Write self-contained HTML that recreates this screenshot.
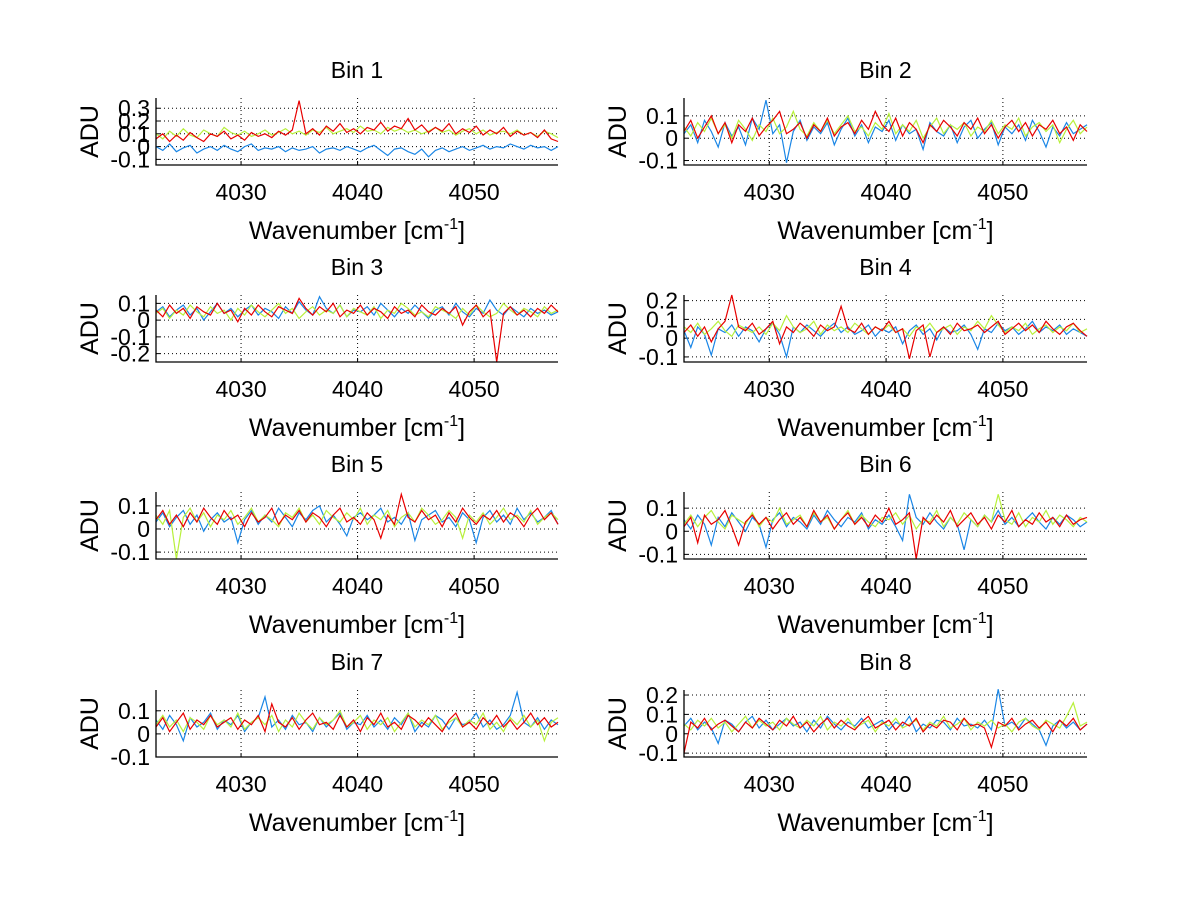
<!DOCTYPE html>
<html><head><meta charset="utf-8"><style>
body{margin:0;background:#fff;}
svg{display:block;font-family:"Liberation Sans",sans-serif;}
</style></head><body>
<svg id="fig" width="1200" height="901" viewBox="0 0 1200 901" xmlns="http://www.w3.org/2000/svg">
<rect width="1200" height="901" fill="#fff"/>
</svg>
<script>
// values in hundredths of ADU
const xMin = 4022.7, xMax = 4057.2;
const xTicks = [4030, 4040, 4050];
const binTitles = ["Bin 1","Bin 2","Bin 3","Bin 4","Bin 5","Bin 6","Bin 7","Bin 8"];
const yRanges = [[-0.144,0.38],[-0.12,0.18],[-0.25,0.15],[-0.127,0.23],[-0.13,0.16],[-0.12,0.17],[-0.1,0.19],[-0.12,0.226]];
const yTicks = [[-0.1,0,0.1,0.2,0.3],[-0.1,0,0.1],[-0.2,-0.1,0,0.1],[-0.1,0,0.1,0.2],[-0.1,0,0.1],[-0.1,0,0.1],[-0.1,0,0.1],[-0.1,0,0.1,0.2]];
const blueSeries = [
[0,-3,2,-4,-1,1,-5,-2,0,-3,1,-2,-4,0,2,-3,-1,-2,0,-4,-1,-3,-2,0,-5,-2,-1,-3,0,-2,-4,-1,1,-3,-7,-2,-1,-4,-6,-2,-8,-3,-1,-4,-2,0,-3,-1,1,-2,0,-1,2,0,-2,1,-1,0,-3,0],
[2,6,-2,8,3,-4,7,1,5,-3,9,4,17,2,6,-11,3,8,-1,5,2,7,-3,4,9,1,6,-2,5,3,8,-1,6,2,4,-5,7,3,1,6,-2,5,8,0,4,7,-3,5,2,6,-1,8,3,-4,5,1,7,2,4,6],
[5,8,2,6,9,3,7,0,5,10,4,7,2,6,9,3,7,5,1,8,4,11,6,3,14,7,4,9,2,6,5,8,3,10,6,2,7,4,9,5,1,6,8,3,10,5,2,7,4,12,6,3,8,5,2,7,4,6,3,5],
[4,-5,6,2,-9,5,3,7,1,6,4,-2,5,8,2,-10,6,3,7,4,1,5,8,3,6,2,4,7,1,5,3,6,-3,4,7,2,5,-1,6,3,4,7,2,-6,5,3,8,4,6,2,5,9,3,6,4,7,2,5,3,1],
[3,7,1,5,8,2,6,-1,4,7,3,5,-6,4,8,2,6,3,9,5,1,7,4,8,10,3,6,2,-3,5,7,4,6,9,3,5,2,7,-5,4,6,8,3,5,1,7,4,-6,5,8,3,6,2,9,4,7,3,5,8,2],
[5,1,7,3,-6,6,2,8,4,0,6,3,-7,5,8,2,6,4,1,7,3,9,5,2,6,4,8,1,5,3,7,2,-4,16,6,3,8,4,1,6,3,-8,5,2,7,4,9,3,6,2,5,8,4,1,6,3,7,5,2,4],
[6,2,8,4,-3,7,3,5,9,2,6,4,8,1,5,7,16,3,6,2,8,4,5,1,7,3,6,9,2,5,4,8,3,6,2,7,4,9,1,5,3,8,6,2,7,4,5,9,3,6,2,4,8,18,5,3,7,2,6,4],
[4,8,2,6,3,-5,7,5,1,6,9,3,7,2,5,8,4,6,1,7,3,9,5,2,6,4,8,3,5,7,2,6,4,9,1,5,3,7,6,2,8,4,5,3,7,2,23,4,6,3,8,5,2,-6,4,7,3,6,2,5]];
const greenSeries = [
[10,6,12,8,14,9,7,13,10,8,15,11,9,12,8,10,13,9,11,14,10,12,9,13,11,15,10,12,14,11,16,12,13,10,15,12,14,11,13,10,12,15,11,13,9,12,14,10,13,9,11,12,10,13,9,11,8,12,10,7],
[5,1,7,3,9,2,6,0,8,4,-1,6,3,9,2,5,12,4,1,7,3,8,2,6,10,3,5,1,7,4,11,2,6,3,8,0,5,9,2,6,4,7,1,5,3,8,2,6,4,9,1,5,7,3,6,-2,4,8,2,5],
[4,7,1,6,3,9,5,2,8,4,6,0,7,3,9,5,2,6,10,4,7,1,5,8,3,6,4,9,2,7,5,3,8,1,6,4,10,7,3,5,2,8,6,4,1,7,3,9,5,2,4,10,6,3,7,5,2,8,4,6],
[6,3,8,2,5,9,4,1,7,5,3,6,2,8,4,12,6,3,5,9,2,7,4,6,3,8,5,2,6,4,7,3,5,1,6,4,8,3,5,7,2,6,4,9,5,12,7,3,6,4,8,2,5,7,3,6,4,8,3,5],
[6,2,8,-13,5,9,3,7,1,6,4,8,2,5,9,3,6,4,1,7,5,9,3,6,2,8,5,3,7,4,9,2,6,4,8,1,5,7,3,9,6,2,4,8,5,-4,6,3,7,2,5,9,4,6,3,8,2,5,7,4],
[3,7,2,6,9,4,1,7,5,3,8,2,6,4,10,3,5,7,2,8,4,6,1,5,9,3,7,4,2,6,5,8,3,7,1,5,4,9,2,6,3,8,5,2,7,4,16,5,3,8,2,6,4,9,3,7,5,2,6,4],
[4,8,3,6,1,7,5,2,8,4,6,3,9,2,5,7,4,8,1,6,3,9,5,2,7,4,6,10,3,5,8,2,6,4,7,1,5,9,3,6,4,8,2,5,7,3,6,4,9,2,5,1,7,4,8,3,6,-3,5,7],
[5,2,7,4,8,3,6,1,5,9,3,7,4,6,2,8,5,3,7,4,9,2,6,4,8,3,5,7,1,6,4,8,3,5,7,2,6,4,9,3,5,8,2,6,4,7,3,5,1,6,8,4,2,7,5,3,9,16,4,6]];
const redSeries = [
[6,10,4,9,5,11,7,4,10,8,12,6,9,5,11,8,10,7,12,9,13,36,10,14,9,16,12,18,11,14,10,15,13,19,12,16,14,22,13,17,11,15,12,18,10,14,11,16,9,13,10,15,8,12,9,11,7,13,6,4],
[3,8,0,5,10,2,7,-2,6,3,9,1,5,8,12,2,4,7,0,6,3,9,1,5,7,2,8,4,12,6,3,9,1,7,4,-2,6,3,8,5,1,7,4,9,2,6,0,5,8,3,7,1,6,4,8,2,5,-1,6,3],
[6,2,9,4,7,1,8,5,3,10,4,6,-1,7,3,9,5,2,8,6,4,13,7,3,8,5,10,2,6,4,9,3,7,5,1,8,4,6,2,9,5,3,7,4,8,-3,5,9,2,6,-25,4,8,3,6,2,7,4,9,5],
[3,7,1,6,-2,5,9,23,6,4,8,2,5,9,-3,6,3,8,5,1,7,4,6,17,5,3,8,2,6,4,9,3,5,-11,4,7,-10,3,6,2,8,4,5,7,3,6,9,2,5,8,4,7,3,9,5,2,6,8,4,1],
[4,8,2,6,1,7,3,9,5,2,8,4,6,1,7,3,5,9,2,6,4,8,3,7,5,1,6,9,3,5,2,7,4,-4,6,2,15,5,3,8,4,6,1,7,3,9,5,2,6,4,8,3,7,5,1,6,9,4,7,2],
[2,6,-5,7,3,5,9,2,-6,4,7,3,6,1,5,8,3,6,2,9,4,7,1,5,8,3,6,2,7,4,10,3,5,8,-12,6,3,7,4,9,2,5,8,3,6,1,7,4,9,2,5,3,8,4,6,2,7,3,5,6],
[3,7,1,5,9,2,6,4,8,3,5,7,2,6,4,8,1,13,5,3,7,2,6,9,4,5,2,8,3,6,1,7,4,9,3,5,2,8,6,3,7,4,1,6,9,3,5,2,7,4,8,3,6,2,5,9,4,7,3,5],
[-10,6,3,8,2,5,7,4,1,6,3,8,5,2,7,4,9,3,6,1,5,8,3,7,4,2,6,9,3,5,7,2,6,4,8,1,5,3,7,6,2,8,4,5,3,-7,6,4,8,2,5,7,3,6,1,7,4,8,2,5]];

const NS = "http://www.w3.org/2000/svg";
const svg = document.getElementById('fig');
function mk(tag, attrs, parent){ const e=document.createElementNS(NS,tag); for(const k in attrs) e.setAttribute(k,attrs[k]); (parent||svg).appendChild(e); return e; }
const colX = [[156,558],[684,1087]];
const rowTop = [98,295,492,690];
const H = 67;
const colors = ["#1a86e6","#b8f03c","#e80000"];
for(let b=0;b<8;b++){
  const c=b%2, r=Math.floor(b/2);
  const x0=colX[c][0], x1=colX[c][1], y0=rowTop[r], y1=y0+H;
  const [ymin,ymax]=yRanges[b];
  const sx=v=>x0+(v-xMin)/(xMax-xMin)*(x1-x0);
  const sy=v=>y1-(v-ymin)/(ymax-ymin)*H;
  const g=mk('g',{});
  
  
  xTicks.forEach(t=>{ const l=mk('line',{x1:sx(t),x2:sx(t),y1:y0,y2:y1,stroke:'#000','stroke-width':1,'stroke-dasharray':'1,3'},g);
     
    const tx=mk('text',{x:sx(t),y:y1+35,'text-anchor':'middle','font-size':23},g); tx.textContent=t;
     
    mk('line',{x1:sx(t),x2:sx(t),y1:y1,y2:y1-4,stroke:'#000'},g);
  });
  yTicks[b].forEach(t=>{ const l=mk('line',{x1:x0,x2:x1,y1:sy(t),y2:sy(t),stroke:'#000','stroke-width':1,'stroke-dasharray':'1,3'},g);
     
    const tx=mk('text',{x:x0-6,y:sy(t)+8,'text-anchor':'end','font-size':23},g); tx.textContent=(t===0?'0':String(t));
     
    mk('line',{x1:x0,x2:x0+4,y1:sy(t),y2:sy(t),stroke:'#000'},g);
  });
  [blueSeries[b],greenSeries[b],redSeries[b]].forEach((s,k)=>{
    const n=s.length;
    const pts=s.map((v,i)=>sx(xMin+i*(xMax-xMin)/(n-1)).toFixed(1)+','+sy(v/100).toFixed(1)).join(' ');
    const pl=mk('polyline',{points:pts,fill:'none',stroke:colors[k],'stroke-width':1.2},g);
    
    
  });
  const ax=mk('path',{d:`M${x0},${y0}V${y1}H${x1}`,fill:'none',stroke:'#000','stroke-width':1.3},g);
   
  const ti=mk('text',{x:(x0+x1)/2,y:y0-20,'text-anchor':'middle','font-size':23},g); ti.textContent=binTitles[b];
   
  const xl=mk('text',{x:(x0+x1)/2,y:y1+74,'text-anchor':'middle','font-size':25},g);
  xl.innerHTML='Wavenumber [cm<tspan dy="-10" font-size="16">-1</tspan><tspan dy="10">]</tspan>';
   
  const yc=(y0+y1)/2, yx=x0-58;
  const yl=mk('text',{x:yx,y:yc,'text-anchor':'middle','font-size':25,transform:`rotate(-90 ${yx} ${yc})`},g); yl.textContent='ADU';
   
}
</script>
</body></html>
